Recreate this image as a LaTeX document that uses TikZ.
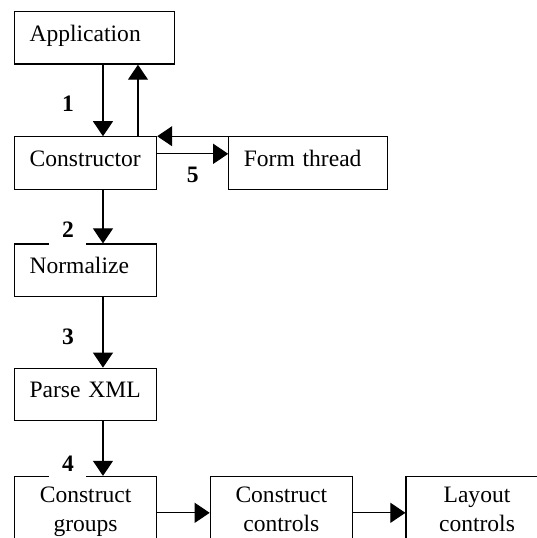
\documentclass[tikz,border=0pt]{standalone}
\usepackage{fontspec}
\setmainfont{Liberation Serif}
\usetikzlibrary{arrows.meta,positioning}

\begin{document}
\begin{tikzpicture}[x=0.02cm, y=-0.02cm,
    >={Triangle[length=0.3cm,width=0.4cm]},
    every node/.style={font=\fontsize{13.4}{16.5}\selectfont},
    box/.style={rectangle, draw, line width=0.7pt, inner xsep=0.3cm, inner ysep=0pt, text height=0.59cm, text depth=0.46cm, align=left},
    stage/.style={rectangle, draw, line width=0.7pt, inner xsep=0.1cm, inner ysep=0.11cm, text width=2.64cm, align=center},
    num/.style={fill=white, font=\fontsize{13.4}{16.5}\selectfont\bfseries, minimum width=0.74cm, minimum height=0.6cm, inner sep=0pt},
    flow/.style={->, line width=0.6pt}]
    \path [use as bounding box, clip] (0,0) rectangle (537,538);

    \node (app) [box, text width=2.6cm, anchor=north west] at (14,11) {Application};
    \node (ctor) [box, text width=2.24cm, below=1.43cm of app.south west, anchor=north west] {Constructor};
    \node (form) [box, text width=2.58cm, right=1.42cm of ctor.north east, anchor=north west] {Form thread};
    \node (norm) [box, text width=2.24cm, below=1.07cm of ctor.south west, anchor=north west] {Normalize};
    \node (parse) [box, text width=2.24cm, below=1.41cm of norm.south west, anchor=north west] {Parse XML};
    \node (groups) [stage, below=1.09cm of parse.south west, anchor=north west] {\strut Construct\\groups\strut};
    \node (controls) [stage, right=1.05cm of groups.north east, anchor=north west] {\strut Construct\\controls\strut};
    \node (layout) [stage, right=1.05cm of controls.north east, anchor=north west] {\strut Layout\\controls\strut};

    \draw [flow] ([xshift=1.78cm]app.south west) -- node [num, pos=0.55, xshift=-0.7cm] {1} ([xshift=1.78cm]ctor.north west);
    \draw [flow] ([xshift=2.48cm]ctor.north west) -- ([xshift=2.48cm]app.south west);
    \draw [flow] (form.north west) -- (ctor.north east);
    \draw [flow] ([yshift=0.185cm]ctor.east) -- node [num, midway, yshift=-0.42cm] {5} ([yshift=0.185cm]form.west);
    \draw [flow] ([xshift=1.78cm]ctor.south west) -- node [num, pos=0.74, xshift=-0.7cm] {2} ([xshift=1.78cm]norm.north west);
    \draw [flow] ([xshift=1.78cm]norm.south west) -- node [num, pos=0.56, xshift=-0.7cm] {3} ([xshift=1.78cm]parse.north west);
    \draw [flow] ([xshift=1.78cm]parse.south west) -- node [num, pos=0.78, xshift=-0.7cm] {4} ([xshift=1.78cm]groups.north west);
    \draw [flow] ([yshift=-0.74cm]groups.north east) -- ([yshift=-0.74cm]controls.north west);
    \draw [flow] ([yshift=-0.74cm]controls.north east) -- ([yshift=-0.74cm]layout.north west);
\end{tikzpicture}
\end{document}
